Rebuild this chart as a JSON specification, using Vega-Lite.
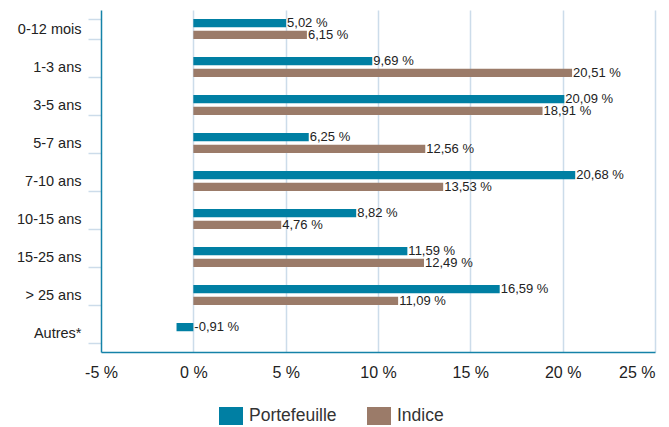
{
  "$schema": "https://vega.github.io/schema/vega-lite/v6.json",
  "width": 554,
  "height": 342,
  "autosize": "none",
  "padding": {"left": 101, "top": 10, "right": 14, "bottom": 75},
  "background": "white",
  "config": {
    "font": "Liberation Sans",
    "view": {"stroke": null},
    "text": {"font": "Liberation Sans"}
  },
  "data": {
    "values": [
      {"cat": "0-12 mois", "serie": "Portefeuille", "value": 5.02},
      {"cat": "0-12 mois", "serie": "Indice", "value": 6.15},
      {"cat": "1-3 ans", "serie": "Portefeuille", "value": 9.69},
      {"cat": "1-3 ans", "serie": "Indice", "value": 20.51},
      {"cat": "3-5 ans", "serie": "Portefeuille", "value": 20.09},
      {"cat": "3-5 ans", "serie": "Indice", "value": 18.91},
      {"cat": "5-7 ans", "serie": "Portefeuille", "value": 6.25},
      {"cat": "5-7 ans", "serie": "Indice", "value": 12.56},
      {"cat": "7-10 ans", "serie": "Portefeuille", "value": 20.68},
      {"cat": "7-10 ans", "serie": "Indice", "value": 13.53},
      {"cat": "10-15 ans", "serie": "Portefeuille", "value": 8.82},
      {"cat": "10-15 ans", "serie": "Indice", "value": 4.76},
      {"cat": "15-25 ans", "serie": "Portefeuille", "value": 11.59},
      {"cat": "15-25 ans", "serie": "Indice", "value": 12.49},
      {"cat": "> 25 ans", "serie": "Portefeuille", "value": 16.59},
      {"cat": "> 25 ans", "serie": "Indice", "value": 11.09},
      {"cat": "Autres*", "serie": "Portefeuille", "value": -0.91}
    ]
  },
  "transform": [
    {"calculate": "replace(replace(format(datum.value, '.2f'), '.', ','), '\u2212', '-') + ' %'", "as": "label"},
    {"calculate": "max(datum.value, 0)", "as": "labelPos"}
  ],
  "encoding": {
    "y": {
      "field": "cat",
      "type": "nominal",
      "sort": null,
      "scale": {"paddingInner": 0.474, "paddingOuter": 0.237},
      "axis": {
        "title": null,
        "zindex": 1,
        "domainColor": "#1582A8",
        "domainWidth": 1.5,
        "tickBand": "extent",
        "tickColor": "#CCDCEA",
        "tickSize": 13,
        "tickWidth": 1.5,
        "labelPadding": 7,
        "labelFontSize": 14.5,
        "labelColor": "#222222",
        "labelFont": "Liberation Sans"
      }
    },
    "yOffset": {
      "field": "serie",
      "type": "nominal",
      "sort": ["Portefeuille", "Indice"],
      "scale": {"paddingInner": 0.3, "paddingOuter": 0}
    }
  },
  "layer": [
    {
      "mark": {"type": "bar"},
      "encoding": {
        "x": {
          "field": "value",
          "type": "quantitative",
          "scale": {"domain": [-5, 25], "nice": false, "zero": false},
          "axis": {
            "title": null,
            "values": [-5, 0, 5, 10, 15, 20, 25],
            "labelExpr": "datum.value + ' %'",
            "labelFlush": false,
            "labelOverlap": false,
            "labelAlign": {"condition": {"test": "datum.value === 25", "value": "right"}, "value": "center"},
            "ticks": false,
            "grid": true,
            "gridColor": {"condition": {"test": "datum.value === -5", "value": "transparent"}, "value": "#CCDCEA"},
            "gridWidth": 1.5,
            "domainColor": "#1582A8",
            "domainWidth": 1.5,
            "labelPadding": 12,
            "labelFontSize": 16,
            "labelColor": "#222222",
            "labelFont": "Liberation Sans"
          }
        },
        "color": {
          "field": "serie",
          "type": "nominal",
          "sort": ["Portefeuille", "Indice"],
          "scale": {"domain": ["Portefeuille", "Indice"], "range": ["#007FA3", "#9B7B69"]},
          "legend": {
            "title": null,
            "orient": "none",
            "direction": "horizontal",
            "legendX": 120,
            "legendY": 396,
            "padding": 0,
            "symbolType": "M-1.2,-0.9H1.2V0.9H-1.2Z",
            "symbolSize": 400,
            "symbolStrokeWidth": 0,
            "symbolOpacity": 1,
            "labelFontSize": 17.5,
            "labelColor": "#333333",
            "labelFont": "Liberation Sans",
            "labelOffset": 8,
            "columnPadding": 30
          }
        }
      }
    },
    {
      "mark": {"type": "text", "align": "left", "baseline": "middle", "dx": 1, "fontSize": 13, "color": "#222222"},
      "encoding": {
        "x": {"field": "labelPos", "type": "quantitative"},
        "text": {"field": "label"}
      }
    }
  ]
}
